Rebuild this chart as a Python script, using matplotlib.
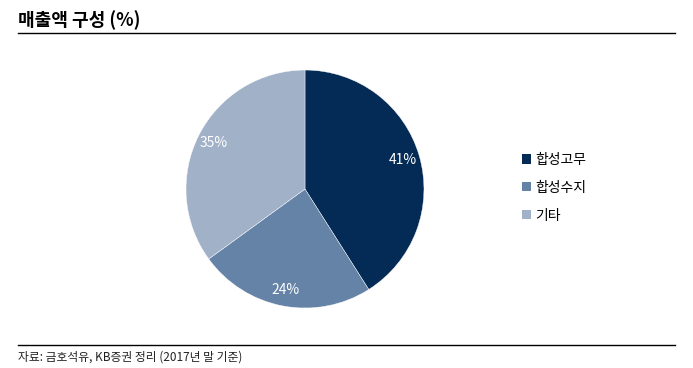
import matplotlib.pyplot as plt
from matplotlib.lines import Line2D
from matplotlib.patches import Patch

plt.rcParams['font.family'] = ['Noto Sans CJK KR', 'DejaVu Sans']

# data
categories = ['합성고무', '합성수지', '기타']
shares = [41, 24, 35]
colors = ['#032b55', '#6583a6', '#a1b1c8']
title = '매출액 구성 (%)'
source = '자료: 금호석유, KB증권 정리 (2017년 말 기준)'

fig = plt.figure(figsize=(6.93, 3.68), dpi=100)

ax = fig.add_axes([0.2684, 0.163, 0.3434, 0.6467])
wedges, texts, autotexts = ax.pie(
    shares, colors=colors, startangle=90, counterclock=False,
    autopct='%d%%', pctdistance=0.86,
    textprops={'color': 'white', 'fontsize': 10},
    wedgeprops={'linewidth': 0.3, 'edgecolor': 'white'})
ax.set_xlim(-1, 1)
ax.set_ylim(-1, 1)
ax.set_aspect('equal')

handles = [Patch(facecolor=c, edgecolor='none') for c in colors]
fig.legend(handles, categories, loc='upper left', bbox_to_anchor=(0.745, 0.6),
           frameon=False, fontsize=10, handlelength=0.65, handleheight=0.65,
           handletextpad=0.3, labelspacing=1.0, borderaxespad=0)

# header and footer
fig.text(0.026, 0.945, title, fontsize=13, fontweight='bold', va='center', ha='left')
fig.add_artist(Line2D([0.026, 0.974], [0.910, 0.910], color='black', linewidth=1))
fig.add_artist(Line2D([0.026, 0.974], [0.0625, 0.0625], color='black', linewidth=1))
fig.text(0.026, 0.03, source, fontsize=8.5, va='center', ha='left', color='#222222')

fig.savefig('out.png', dpi=100)
